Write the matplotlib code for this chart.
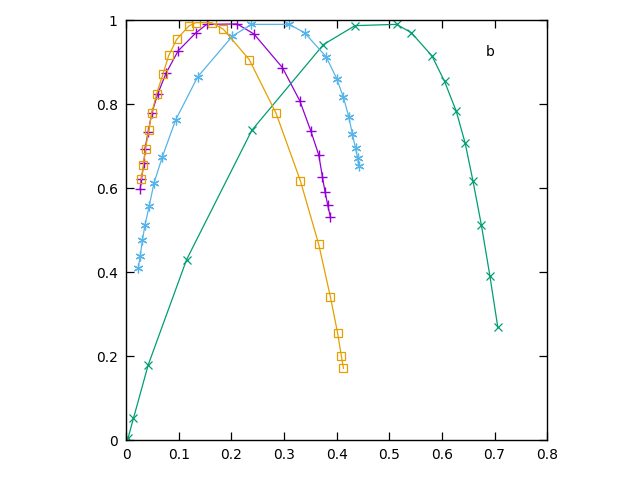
import matplotlib
matplotlib.use("Agg")
import matplotlib.pyplot as plt

# series 1: purple, "+" markers
purple_x = [0.027, 0.029, 0.034, 0.036, 0.042, 0.049, 0.060, 0.076, 0.099, 0.132, 0.153,
            0.211, 0.243, 0.297, 0.330, 0.351, 0.366, 0.373, 0.378, 0.383, 0.388]
purple_y = [0.599, 0.621, 0.659, 0.694, 0.734, 0.779, 0.824, 0.874, 0.927, 0.969, 0.990,
            0.991, 0.967, 0.887, 0.808, 0.736, 0.679, 0.627, 0.591, 0.560, 0.532]

# series 2: green, "x" markers
green_x = [0.004, 0.014, 0.042, 0.115, 0.239, 0.375, 0.435, 0.514, 0.542, 0.581,
           0.605, 0.627, 0.644, 0.659, 0.675, 0.691, 0.706]
green_y = [0.006, 0.052, 0.179, 0.430, 0.738, 0.942, 0.987, 0.990, 0.970, 0.915,
           0.854, 0.784, 0.708, 0.617, 0.512, 0.392, 0.270]

# series 3: light blue, "*" markers
blue_x = [0.023, 0.027, 0.031, 0.036, 0.044, 0.053, 0.069, 0.094, 0.136, 0.202, 0.238,
          0.310, 0.339, 0.380, 0.400, 0.413, 0.423, 0.430, 0.436, 0.440, 0.442]
blue_y = [0.409, 0.439, 0.476, 0.513, 0.558, 0.612, 0.675, 0.762, 0.865, 0.962, 0.990,
          0.990, 0.970, 0.913, 0.861, 0.816, 0.770, 0.728, 0.695, 0.671, 0.652]

# series 4: orange, square markers
orange_x = [0.029, 0.033, 0.037, 0.043, 0.049, 0.058, 0.070, 0.081, 0.096, 0.119, 0.132,
            0.163, 0.185, 0.234, 0.285, 0.331, 0.366, 0.388, 0.402, 0.409, 0.413]
orange_y = [0.621, 0.656, 0.694, 0.738, 0.780, 0.825, 0.871, 0.916, 0.954, 0.986, 0.994,
            0.994, 0.978, 0.906, 0.778, 0.618, 0.466, 0.342, 0.254, 0.200, 0.171]

x_ticks = [0, 0.1, 0.2, 0.3, 0.4, 0.5, 0.6, 0.7, 0.8]
x_labels = ["0", "0.1", "0.2", "0.3", "0.4", "0.5", "0.6", "0.7", "0.8"]
y_ticks = [0, 0.2, 0.4, 0.6, 0.8, 1]
y_labels = ["0", "0.2", "0.4", "0.6", "0.8", "1"]

fig = plt.figure(figsize=(6.4, 4.8), dpi=100)
ax = fig.add_axes([0.197, 0.083, 0.658, 0.875])

ax.plot(purple_x, purple_y, color="#9400d3", lw=0.9, marker="+", ms=7, mew=1.0)
ax.plot(green_x, green_y, color="#009e73", lw=0.9, marker="x", ms=6, mew=0.9)
ax.plot(blue_x, blue_y, color="#56b4e9", lw=0.9, marker=(6, 2, 0), ms=7, mew=0.9)
ax.plot(orange_x, orange_y, color="#e69f00", lw=0.9, marker="s", ms=6, mew=0.9,
        mfc="none")

ax.text(0.692, 0.924, "b", fontsize=10, ha="center", va="center")

ax.set_xlim(0, 0.8)
ax.set_ylim(0, 1)
ax.set_xticks(x_ticks)
ax.set_xticklabels(x_labels)
ax.set_yticks(y_ticks)
ax.set_yticklabels(y_labels)
ax.tick_params(direction="in", top=True, right=True, length=6, width=0.9,
               labelsize=10, pad=6)
for s in ax.spines.values():
    s.set_linewidth(1.0)

fig.savefig("out.png", dpi=100)
